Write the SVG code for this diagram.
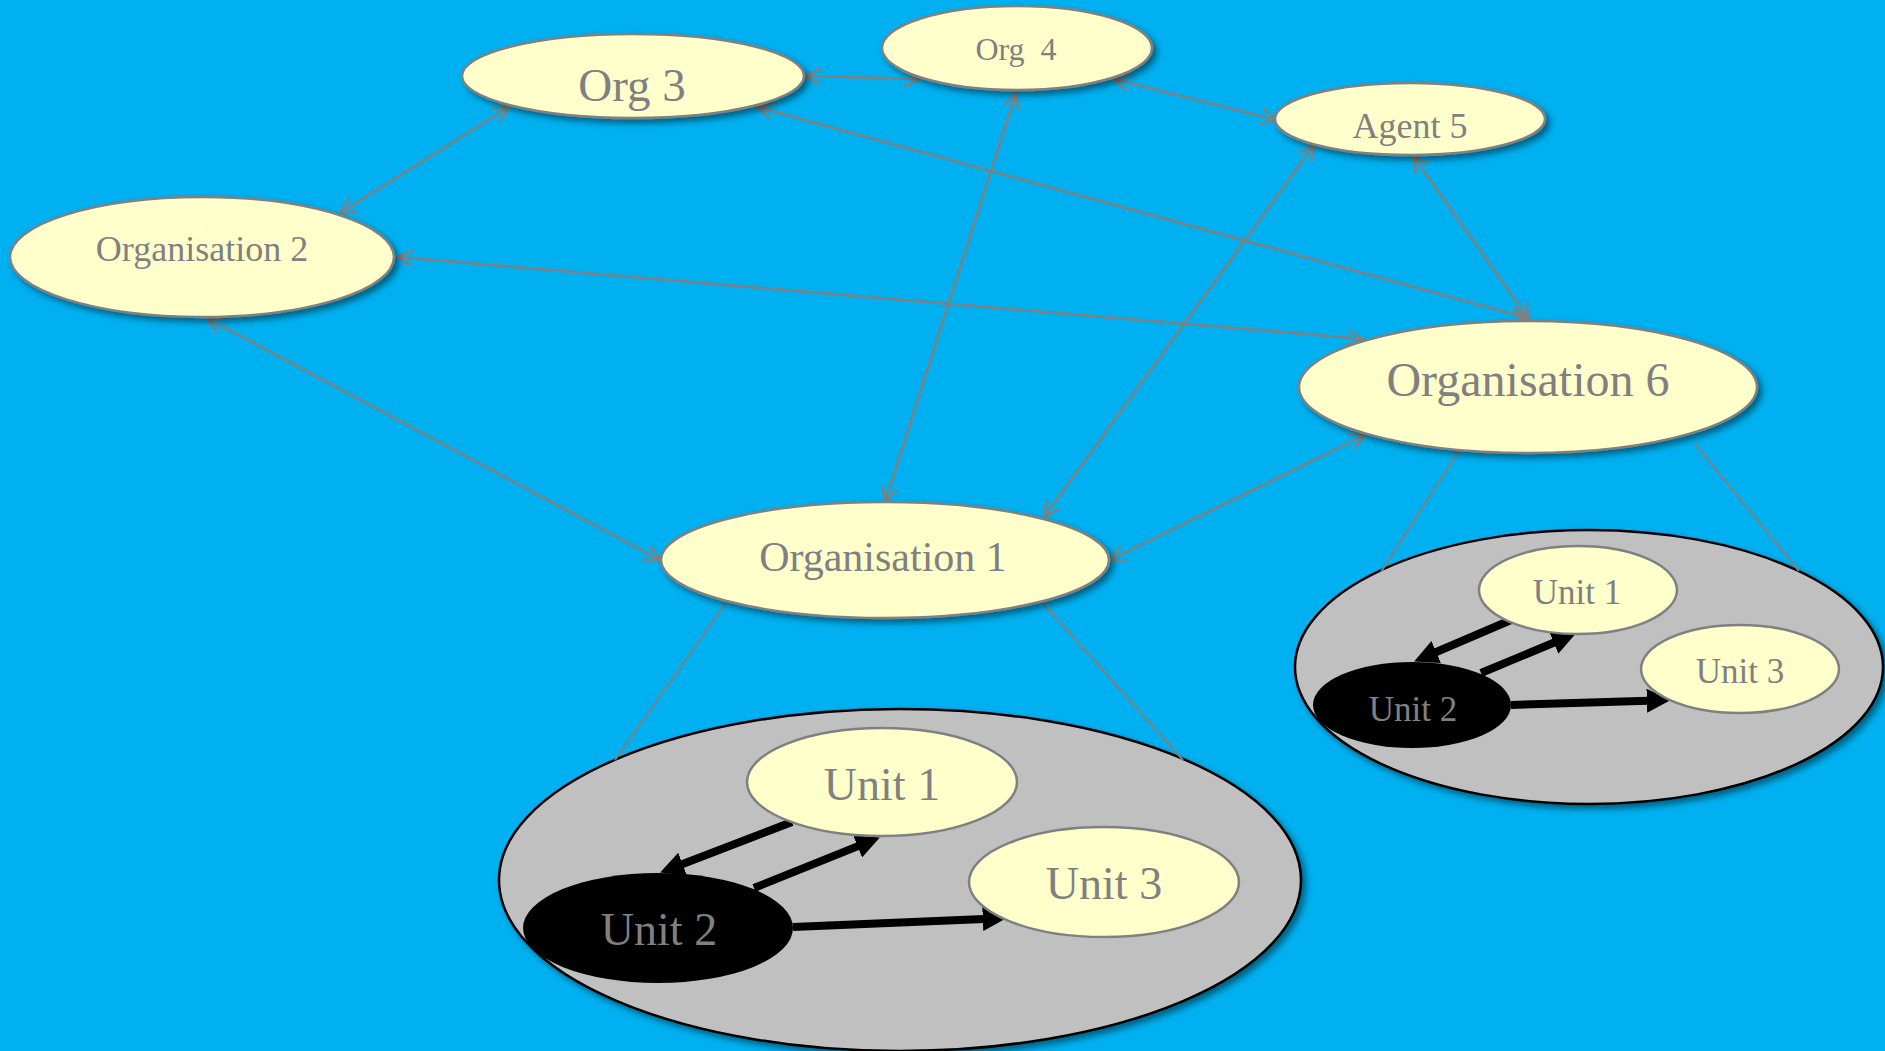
<svg xmlns="http://www.w3.org/2000/svg" width="1885" height="1051" viewBox="0 0 1885 1051">
  <style>
    .node { fill: #FFFFCC; stroke: #808080; stroke-width: 2.5; }
    .dark { fill: #000000; stroke: none; }
    .cluster { fill: #C0C0C0; stroke: #000000; stroke-width: 2.5; }
    .label { fill: #808080; font-family: "Liberation Serif", "Times New Roman", serif; text-anchor: middle; }
    .link { fill: none; stroke: #808080; stroke-width: 2.5; marker-start: url(#open); marker-end: url(#open); }
    .tie { fill: none; stroke: #808080; stroke-width: 2; }
    .flow { fill: none; stroke: #000000; stroke-width: 8; marker-end: url(#solid); }
  </style>
  <defs>
    <filter id="shadow" x="-10%" y="-10%" width="125%" height="130%">
      <feDropShadow dx="4" dy="4" stdDeviation="3" flood-color="#000000" flood-opacity="0.45"/>
    </filter>
    <marker id="open" viewBox="0 0 18 18" refX="16" refY="9" markerWidth="18" markerHeight="18" markerUnits="userSpaceOnUse" orient="auto-start-reverse">
      <path d="M0,1 L16,9 L0,17" fill="none" stroke="#808080" stroke-width="2.5"/>
    </marker>
    <marker id="solid" viewBox="0 0 10 10" refX="0.5" refY="5" markerWidth="3" markerHeight="3" orient="auto">
      <path d="M0,0 L10,5 L0,10 z" fill="#000000"/>
    </marker>
  </defs>

  <rect width="1885" height="1051" fill="#00B0F0"/>

  <!-- inner structure backgrounds -->
  <g id="cluster-org1">
    <ellipse class="cluster" cx="900" cy="880" rx="401" ry="171" filter="url(#shadow)"/>
  </g>
  <g id="cluster-org6">
    <ellipse class="cluster" cx="1589" cy="667" rx="294" ry="137" filter="url(#shadow)"/>
  </g>

  <g id="connectors">
    <line class="link" x1="805" y1="76" x2="920" y2="79"/>
    <line class="link" x1="509" y1="107" x2="340" y2="213"/>
    <line class="link" x1="757" y1="107" x2="1527" y2="318"/>
    <line class="link" x1="1016" y1="93" x2="885" y2="502"/>
    <line class="link" x1="1113" y1="79" x2="1277" y2="120"/>
    <line class="link" x1="397" y1="257" x2="1363" y2="339"/>
    <line class="link" x1="207" y1="318" x2="660" y2="560"/>
    <line class="link" x1="1314" y1="145" x2="1044" y2="517"/>
    <line class="link" x1="1413" y1="156" x2="1529" y2="319"/>
    <line class="link" x1="1365" y1="435" x2="1110" y2="560"/>

    <line class="tie" x1="726" y1="603" x2="615" y2="760"/>
    <line class="tie" x1="1043" y1="603" x2="1183" y2="760"/>
    <line class="tie" x1="1463" y1="444" x2="1381" y2="572"/>
    <line class="tie" x1="1695" y1="444" x2="1799" y2="571"/>

    <line class="flow" x1="792" y1="822" x2="681.4" y2="864.4"/>
    <line class="flow" x1="754" y1="888" x2="858.7" y2="845.9"/>
    <line class="flow" x1="793" y1="927" x2="984" y2="919"/>

    <line class="flow" x1="1511" y1="620" x2="1435.1" y2="652.5"/>
    <line class="flow" x1="1481" y1="673" x2="1554.8" y2="642.2"/>
    <line class="flow" x1="1511" y1="705" x2="1648" y2="700.7"/>
  </g>

  <g id="org3">
    <ellipse class="node" cx="633" cy="76" rx="171" ry="42" filter="url(#shadow)"/>
    <text class="label" x="632" y="101" font-size="47">Org 3</text>
  </g>
  <g id="org4">
    <ellipse class="node" cx="1017" cy="48" rx="135" ry="42" filter="url(#shadow)"/>
    <text class="label" x="1016" y="60" font-size="32" xml:space="preserve">Org  4</text>
  </g>
  <g id="agent5">
    <ellipse class="node" cx="1410" cy="119" rx="135" ry="36" filter="url(#shadow)"/>
    <text class="label" x="1410" y="138" font-size="36">Agent 5</text>
  </g>
  <g id="organisation2">
    <ellipse class="node" cx="202" cy="257" rx="192" ry="60" filter="url(#shadow)"/>
    <text class="label" x="202" y="261" font-size="36">Organisation 2</text>
  </g>
  <g id="organisation6">
    <ellipse class="node" cx="1528" cy="387" rx="229" ry="66" filter="url(#shadow)"/>
    <text class="label" x="1528" y="396" font-size="48">Organisation 6</text>
  </g>
  <g id="organisation1">
    <ellipse class="node" cx="885" cy="560" rx="224" ry="58" filter="url(#shadow)"/>
    <text class="label" x="883" y="571" font-size="42">Organisation 1</text>
  </g>

  <!-- units inside Organisation 1 -->
  <g id="org1-unit1">
    <ellipse class="node" cx="882" cy="782" rx="135" ry="54"/>
    <text class="label" x="882" y="800" font-size="46">Unit 1</text>
  </g>
  <g id="org1-unit3">
    <ellipse class="node" cx="1104" cy="882" rx="135" ry="55"/>
    <text class="label" x="1104" y="899" font-size="46">Unit 3</text>
  </g>
  <g id="org1-unit2">
    <ellipse class="dark" cx="658" cy="928" rx="135" ry="55"/>
    <text class="label" x="659" y="945" font-size="46">Unit 2</text>
  </g>

  <!-- units inside Organisation 6 -->
  <g id="org6-unit1">
    <ellipse class="node" cx="1578" cy="590" rx="99" ry="44"/>
    <text class="label" x="1577" y="604" font-size="35">Unit 1</text>
  </g>
  <g id="org6-unit3">
    <ellipse class="node" cx="1740" cy="669" rx="99" ry="44"/>
    <text class="label" x="1740" y="683" font-size="35">Unit 3</text>
  </g>
  <g id="org6-unit2">
    <ellipse class="dark" cx="1412" cy="705" rx="99" ry="43"/>
    <text class="label" x="1413" y="721" font-size="35">Unit 2</text>
  </g>
</svg>
